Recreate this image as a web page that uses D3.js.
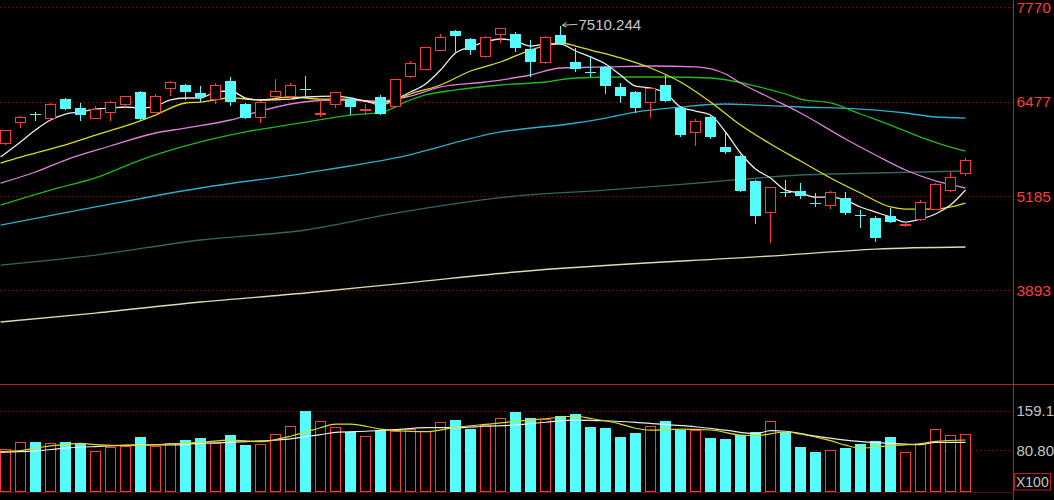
<!DOCTYPE html>
<html>
<head>
<meta charset="utf-8">
<script src="https://cdn.jsdelivr.net/npm/d3@7"></script>
<style>
  html, body { margin: 0; padding: 0; background: #000; overflow: hidden; }
  svg { display: block; }
</style>
</head>
<body>
<div id="chart"></div>
<script>
// candle data (one entry per trading day)
const opens = [5912, 6186, 6312, 6241, 6514, 6391, 6254, 6336, 6446, 6610,
    6336, 6665, 6706, 6597, 6501, 6761, 6446, 6268, 6542, 6542,
    6645, 6305, 6446, 6514, 6360, 6542, 6405, 6829, 6925, 7185,
    7446, 7336, 7103, 7404, 7404, 7199, 7021, 7391, 7021, 6890,
    6953, 6679, 6610, 6473, 6706, 6391, 6049, 6268, 5857, 5734,
    5392, 4967, 5240, 5255, 5095, 5063, 5159, 4930, 4885, 4912,
    4785, 4871, 5008, 5255, 5501];
const highs = [6090, 6282, 6336, 6460, 6528, 6460, 6418, 6487, 6555, 6624,
    6583, 6761, 6720, 6692, 6733, 6816, 6460, 6487, 6788, 6733,
    6829, 6501, 6610, 6528, 6446, 6569, 6790, 7035, 7225, 7404,
    7460, 7350, 7377, 7487, 7432, 7322, 7377, 7510.244, 7213, 7090,
    6970, 6733, 6625, 6679, 6843, 6405, 6241, 6282, 6049, 5750,
    5405, 5310, 5405, 5364, 5227, 5255, 5241, 4994, 4912, 5022,
    4830, 5131, 5364, 5515, 5707];
const lows = [5885, 6117, 6213, 6227, 6364, 6213, 6241, 6213, 6405, 6227,
    6323, 6555, 6501, 6473, 6446, 6418, 6241, 6186, 6528, 6528,
    6542, 6268, 6391, 6295, 6295, 6295, 6391, 6802, 6910, 7170,
    7158, 7117, 7076, 7281, 7158, 6816, 6994, 7260, 6884, 6816,
    6583, 6460, 6323, 6254, 6473, 5994, 5871, 5967, 5761, 5241,
    4803, 4543, 5172, 5145, 5036, 5008, 4926, 4748, 4556, 4815,
    4762, 4844, 4995, 5240, 5460];
const closes = [6090, 6268, 6302, 6446, 6377, 6295, 6377, 6473, 6542, 6241,
    6555, 6747, 6610, 6542, 6706, 6473, 6254, 6473, 6624, 6706,
    6635, 6315, 6597, 6405, 6370, 6309, 6775, 7007, 7213, 7363,
    7377, 7185, 7363, 7473, 7213, 7021, 7363, 7281, 6925, 6880,
    6692, 6555, 6391, 6665, 6487, 6021, 6213, 5994, 5789, 5255,
    4912, 5296, 5230, 5186, 5085, 5241, 4953, 4922, 4611, 4830,
    4795, 5104, 5337, 5446, 5679];
// volume in units of x100
const volumes = [82.2, 96.5, 96.5, 93.4, 96.5, 95.3, 78.9, 86.7, 88.7, 107.1,
    88.7, 93.4, 101.8, 104.3, 93.4, 111.6, 92.0, 91.4, 111.0, 127.8,
    158.6, 138.4, 125.9, 116.1, 108.3, 120.7, 117.5, 121.4, 117.5, 135.7,
    140.9, 122.7, 130.5, 143.5, 156.6, 143.5, 142.3, 148.8, 152.1, 127.2,
    124.7, 107.7, 114.9, 127.2, 139.0, 121.4, 119.4, 105.1, 103.2, 111.6,
    116.1, 137.0, 116.1, 88.1, 78.3, 80.3, 85.5, 93.4, 98.5, 106.3,
    75.8, 92.0, 121.4, 109.6, 111.6];

// moving averages as [day index, value]
const ma5 = [[-0.33, 5720], [1, 5926], [2, 6090], [3, 6227], [4, 6309], [5, 6336], [6, 6377], [7, 6391],
    [8, 6405], [9, 6391], [10, 6418], [11, 6501], [12, 6528], [13, 6528], [14, 6610], [15, 6624],
    [16, 6528], [17, 6501], [19, 6514], [20, 6542], [22, 6555], [23, 6528], [24, 6487], [25, 6460],
    [26, 6514], [27, 6610], [28, 6720], [29, 6911], [30, 7144], [31, 7226], [32, 7295], [33, 7336],
    [34, 7309], [35, 7240], [36, 7267], [37, 7267], [38, 7172], [39, 7090], [40, 6994], [41, 6843],
    [42, 6692], [43, 6665], [44, 6597], [45, 6405], [46, 6350], [47, 6295], [48, 6063], [49, 5775],
    [50, 5556], [51, 5433], [52, 5268], [53, 5227], [54, 5172], [55, 5172], [56, 5131], [57, 5036],
    [58, 4967], [59, 4899], [60, 4830], [61, 4871], [62, 4940], [63, 5063], [64, 5268]];
const ma10 = [[-0.33, 5638], [1, 5720], [2, 5775], [4, 5885], [6, 6021], [8, 6145], [10, 6295],
    [12, 6460], [13, 6473], [15, 6528], [17, 6501], [19, 6542], [21, 6514], [23, 6514], [24, 6487],
    [25, 6432], [26, 6501], [27, 6583], [29, 6706], [31, 6898], [33, 7021], [35, 7185], [37, 7281],
    [38, 7240], [39, 7185], [41, 7076], [43, 6939], [45, 6747], [47, 6473], [49, 6158], [51, 5898],
    [53, 5665], [55, 5433], [57, 5227], [59, 5036], [60, 5008], [62, 5008], [63, 5036], [64, 5090]];
const ma20 = [[-0.33, 5364], [2, 5515], [4, 5679], [7, 5871], [10, 6049], [12, 6117], [15, 6227],
    [17, 6350], [19, 6446], [22, 6501], [25, 6487], [27, 6555], [29, 6679], [32, 6747], [35, 6843],
    [37, 6939], [40, 6953], [43, 6966], [46, 6953], [48, 6857], [49, 6733], [51, 6528], [53, 6323],
    [56, 5967], [58, 5748], [60, 5542], [62, 5392], [64, 5296]];
const ma30 = [[-0.33, 5063], [3, 5268], [6, 5433], [9, 5679], [13, 5926], [16, 6063], [20, 6199],
    [23, 6295], [25, 6330], [27, 6501], [28, 6570], [30, 6638], [33, 6706], [36, 6747], [38, 6802],
    [41, 6816], [44, 6816], [47, 6802], [50, 6692], [52, 6583], [53, 6514], [55, 6460], [57, 6309],
    [59, 6158], [61, 5994], [63, 5857], [64, 5802]];
const ma60 = [[-0.33, 4789], [6, 5036], [13, 5296], [20, 5501], [26, 5707], [33, 6063], [38, 6186],
    [40, 6254], [42, 6336], [45, 6405], [48, 6446], [50, 6432], [53, 6405], [57, 6377], [60, 6323],
    [62, 6268], [64, 6254]];
const ma120 = [[-0.33, 4241], [6, 4378], [13, 4584], [20, 4721], [26, 4953], [34, 5186], [40, 5268],
    [47, 5378], [53, 5474], [58, 5501], [64, 5529]];
const ma250 = [[-0.33, 3461], [6, 3584], [13, 3735], [20, 3858], [26, 3981], [34, 4146], [52, 4378],
    [58, 4460], [64, 4488]];
const volMaA = [[-0.33, 76.9], [2, 79.7], [4, 85.2], [6, 88.3], [9, 91.4], [11, 91.4], [13, 94.5],
    [15, 96.5], [17, 99.4], [19, 103.2], [20, 107.7], [21, 111.6], [22, 116.1], [24, 118.4],
    [26, 121.4], [28, 125.3], [30, 125.3], [32, 128.2], [34, 130.6], [36, 136.0], [38, 140.4],
    [40, 139.0], [42, 135.7], [44, 131.2], [46, 127.2], [48, 120.4], [50, 113.5], [51, 119.4],
    [52, 118.4], [54, 108.6], [56, 100.8], [58, 95.9], [60, 93.0], [61, 92.0], [62, 96.5], [64, 96.5]];
const volMaB = [[-0.33, 78.3], [1, 80.3], [2, 85.5], [4, 92.6], [5, 94.5], [6, 92.0], [8, 90.0],
    [11, 93.4], [13, 96.5], [15, 100.8], [17, 97.9], [18, 101.8], [19, 108.6], [20, 116.5],
    [21, 125.3], [22, 132.5], [23, 132.5], [25, 122.7], [27, 118.0], [28, 117.5], [30, 125.9],
    [31, 129.2], [32, 131.7], [34, 138.0], [36, 142.9], [38, 147.8], [39, 143.5], [41, 132.5],
    [42, 124.3], [43, 120.4], [45, 122.7], [47, 120.8], [49, 111.0], [50, 109.6], [52, 116.9],
    [53, 112.9], [55, 99.8], [56, 91.0], [57, 85.2], [59, 90.0], [61, 94.0], [62, 98.5], [64, 101.2]];

// axis labels
const priceTicks = [7770, 6477, 5185, 3893];
const volTicks = [159.1, 80.80];
const volTickLabels = ["159.1", "80.80"];
const volUnit = "X100";
const peakLabel = "7510.244";

const width = 1054, height = 500;
const axisX = 1013.5;
const RED = "#ff3a3a", CYAN = "#54fcfc", GRID = "#8c1010", AXIS = "#c21d1d";
const FONT = "Arial, 'Liberation Sans', sans-serif";

const svg = d3.select("#chart")
    .append("svg")
    .attr("width", width)
    .attr("height", height)
    .style("background", "#000");

// scales
const x = d3.scaleLinear().domain([0, 64]).range([5.5, 965.5]);
const y = d3.scaleLinear().domain([2626, 7870]).range([383, 0]);
const yVol = d3.scaleLinear().domain([0, 210]).range([491.5, 384.6]);

const days = d3.range(opens.length).map(i => ({
    i: i, open: opens[i], high: highs[i], low: lows[i], close: closes[i], vol: volumes[i],
    up: closes[i] >= opens[i]
}));

// dotted grid lines
svg.append("g").selectAll("line")
    .data(priceTicks)
    .join("line")
    .attr("x1", 0).attr("x2", axisX)
    .attr("y1", d => Math.round(y(d)) + 0.5)
    .attr("y2", d => Math.round(y(d)) + 0.5)
    .attr("stroke", GRID)
    .attr("stroke-dasharray", "1,3");
svg.append("g").selectAll("line")
    .data(volTicks)
    .join("line")
    .attr("x1", 0).attr("x2", axisX)
    .attr("y1", d => Math.round(yVol(d)) + 0.5)
    .attr("y2", d => Math.round(yVol(d)) + 0.5)
    .attr("stroke", GRID)
    .attr("stroke-dasharray", "1,3");

// panel frame
svg.append("line").attr("x1", 0).attr("x2", width).attr("y1", 384.5).attr("y2", 384.5)
    .attr("stroke", AXIS);
svg.append("line").attr("x1", 0).attr("x2", axisX).attr("y1", 492.5).attr("y2", 492.5)
    .attr("stroke", "#5a0808");
svg.append("line").attr("x1", axisX).attr("x2", axisX).attr("y1", 0).attr("y2", height)
    .attr("stroke", AXIS);

// right axes (labels only)
const priceAxis = svg.append("g")
    .attr("transform", `translate(${axisX + 2}, 0)`)
    .call(d3.axisRight(y).tickValues(priceTicks).tickSize(0).tickPadding(1).tickFormat(d3.format("d")));
priceAxis.select(".domain").remove();
priceAxis.selectAll("text")
    .attr("fill", RED)
    .style("font", `15.5px ${FONT}`);

const volAxis = svg.append("g")
    .attr("transform", `translate(${axisX + 2}, 0)`)
    .call(d3.axisRight(yVol).tickValues(volTicks).tickSize(0).tickPadding(1)
        .tickFormat((d, k) => volTickLabels[k]));
volAxis.select(".domain").remove();
volAxis.selectAll("text")
    .attr("fill", "#c4c4c4")
    .style("font", `15px ${FONT}`);

svg.append("rect")
    .attr("x", 1014.5).attr("y", 473.5).attr("width", 36).attr("height", 16.5)
    .attr("fill", "none").attr("stroke", AXIS);
svg.append("text")
    .attr("x", 1016).attr("y", 482)
    .attr("dy", "0.35em")
    .attr("fill", "#c4c4c4")
    .style("font", `14px ${FONT}`)
    .text(volUnit);

// moving average lines
const plot = svg.append("g");
const line = d3.line()
    .curve(d3.curveMonotoneX)
    .x(d => x(d[0]))
    .y(d => y(d[1]));
const maSeries = [
    {data: ma250, color: "#dcdcb0"},
    {data: ma120, color: "#356464"},
    {data: ma60, color: "#2ab0cc"},
    {data: ma30, color: "#1cba1c"},
    {data: ma20, color: "#dc80dc"},
    {data: ma10, color: "#dcdc1e"},
    {data: ma5, color: "#ececec"}
];
plot.selectAll(".ma")
    .data(maSeries)
    .join("path")
    .attr("class", "ma")
    .attr("fill", "none")
    .attr("stroke", d => d.color)
    .attr("stroke-width", 1.3)
    .attr("d", d => line(d.data));

// candles: wicks first, then bodies
const candles = plot.selectAll(".candle")
    .data(days)
    .join("g")
    .attr("class", "candle")
    .attr("shape-rendering", "crispEdges");

candles.append("line")
    .attr("x1", d => x(d.i)).attr("x2", d => x(d.i))
    .attr("y1", d => y(d.high))
    .attr("y2", d => y(d.low))
    .attr("stroke", d => d.up ? RED : CYAN);

candles.append("rect")
    .attr("x", d => d.up ? x(d.i) - 5 : x(d.i) - 5.5)
    .attr("width", d => d.up ? 10 : 11)
    .attr("y", d => y(Math.max(d.open, d.close)))
    .attr("height", d => Math.max(1, y(Math.min(d.open, d.close)) - y(Math.max(d.open, d.close))))
    .attr("fill", d => d.up ? "#000" : CYAN)
    .attr("stroke", d => d.up ? RED : "none");

// peak marker
const peak = days[d3.maxIndex(highs)];
const px = x(peak.i), py = y(peak.high);
svg.append("path")
    .attr("d", `M${px + 2},${py - 1}L${px + 17},${py - 2}M${px + 2},${py - 1}l4,-3M${px + 2},${py - 1}l4,2`)
    .attr("fill", "none")
    .attr("stroke", "#c8c8c8");
svg.append("text")
    .attr("x", px + 18).attr("y", py - 2)
    .attr("dy", "0.35em")
    .attr("fill", "#c8c8c8")
    .style("font", `15px ${FONT}`)
    .text(peakLabel);

// volume bars
const vol = svg.append("g").attr("shape-rendering", "crispEdges");
vol.selectAll("rect")
    .data(days)
    .join("rect")
    .attr("x", d => d.up ? x(d.i) - 5 : x(d.i) - 5.5)
    .attr("width", d => d.up ? 10 : 11)
    .attr("y", d => yVol(d.vol))
    .attr("height", d => yVol(0) - yVol(d.vol))
    .attr("fill", d => d.up ? "#000" : CYAN)
    .attr("stroke", d => d.up ? RED : "none");

const volLine = d3.line()
    .curve(d3.curveMonotoneX)
    .x(d => x(d[0]))
    .y(d => yVol(d[1]));
svg.append("path")
    .attr("fill", "none")
    .attr("stroke", "#ececec")
    .attr("stroke-width", 1.2)
    .attr("d", volLine(volMaA));
svg.append("path")
    .attr("fill", "none")
    .attr("stroke", "#dcdc1e")
    .attr("stroke-width", 1.2)
    .attr("d", volLine(volMaB));
</script>
</body>
</html>
